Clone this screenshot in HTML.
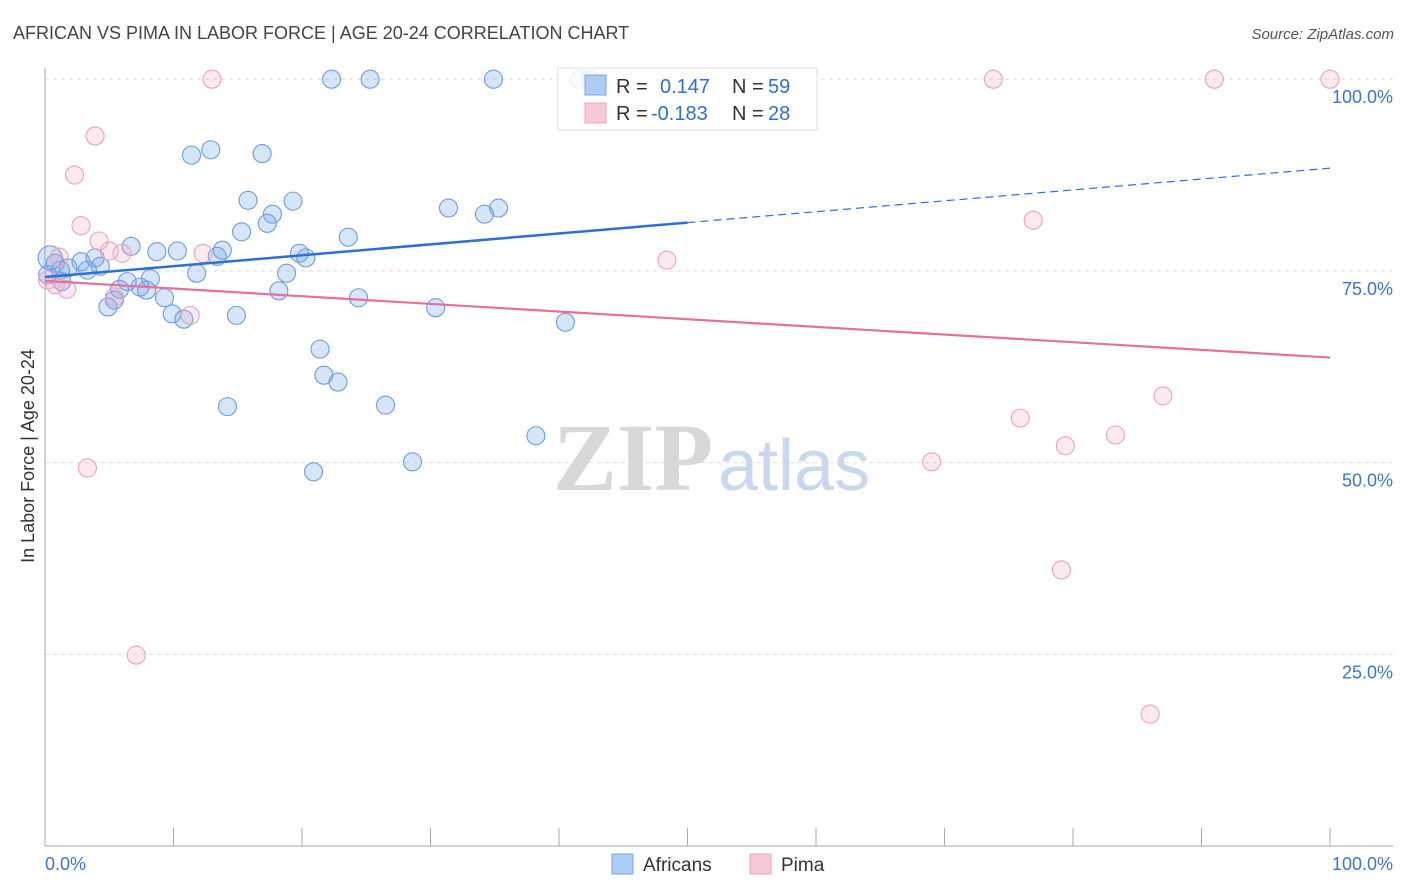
<!DOCTYPE html>
<html><head><meta charset="utf-8"><style>
body{margin:0;background:#fff;font-family:"Liberation Sans",sans-serif;}
svg{display:block}
</style></head><body>
<svg id="chart" width="1406" height="892" xmlns="http://www.w3.org/2000/svg">
<text x="13" y="39" font-size="18" fill="#444">AFRICAN VS PIMA IN LABOR FORCE | AGE 20-24 CORRELATION CHART</text>
<text x="1394" y="39" font-size="15" fill="#555" text-anchor="end" font-style="italic">Source: ZipAtlas.com</text>
<g>
<text x="553" y="490" font-size="96" fill="#d8d8d8" font-family="Liberation Serif,serif" font-weight="bold">ZIP</text>
<text x="718" y="490" font-size="72" fill="#c8d8ef">atlas</text>
</g>
<g id="grid"></g>
<g id="axes"></g>
<g id="pts"></g>
<g id="trends"></g>
<text transform="translate(34,456) rotate(-90)" font-size="18" fill="#333" text-anchor="middle">In Labor Force | Age 20-24</text>
<g>
<rect x="558" y="68" width="259" height="62" fill="#fff" fill-opacity="0.85" stroke="#ddd"/>
<rect x="585" y="75" width="21" height="20" fill="#aecbf3" stroke="#7aa6e6"/>
<rect x="585" y="103" width="21" height="20" fill="#f8c8d6" stroke="#eea4bb"/>
<text x="616" y="93" font-size="20" fill="#333">R =</text>
<text x="660" y="93" font-size="20" fill="#2f6fd1">0.147</text>
<text x="732" y="93" font-size="20" fill="#333">N =</text>
<text x="768" y="93" font-size="20" fill="#2f6fd1">59</text>
<text x="616" y="120" font-size="20" fill="#333">R =</text>
<text x="651" y="120" font-size="20" fill="#2f6fd1">-0.183</text>
<text x="732" y="120" font-size="20" fill="#333">N =</text>
<text x="768" y="120" font-size="20" fill="#2f6fd1">28</text>
</g>
<g>
<rect x="612" y="854" width="21" height="20" fill="#aecbf3" stroke="#7aa6e6"/>
<text x="643" y="871" font-size="19" fill="#333">Africans</text>
<rect x="750" y="854" width="21" height="20" fill="#f8c8d6" stroke="#eea4bb"/>
<text x="781" y="871" font-size="19" fill="#333">Pima</text>
</g>
</svg>
<script>
const blueX=[22.3,25.3,34.9,41.6,42.4,11.4,12.9,16.9,15.8,19.3,17.7,15.3,17.3,31.4,34.2,35.3,23.6,6.7,8.7,10.3,13.8,13.4,19.8,20.3,18.8,11.8,3.9,4.3,2.8,1.8,3.3,0.4,0.8,6.4,8.2,7.4,7.9,5.8,18.2,5.4,9.3,4.9,24.4,9.9,14.9,10.8,30.4,40.5,21.4,21.7,22.8,14.2,26.5,38.2,28.6,20.9,1.2,0.2,1.3];
const blueY=[100,100,100,100,100,90.1,90.8,90.3,84.2,84.1,82.4,80.1,81.2,83.2,82.4,83.2,79.4,78.2,77.5,77.6,77.7,76.9,77.3,76.7,74.7,74.7,76.7,75.6,76.2,75.4,75.1,76.7,76.0,73.6,74.0,72.9,72.5,72.6,72.4,71.2,71.5,70.3,71.5,69.4,69.2,68.7,70.2,68.3,64.8,61.4,60.5,57.3,57.5,53.5,50.1,48.8,75.1,74.5,73.6];
const pinkX=[13.0,73.8,91.0,100,3.9,2.3,2.8,4.2,5.0,6.0,12.3,1.1,48.4,76.9,0.2,0.8,1.7,5.4,11.3,75.9,87.0,79.4,83.3,69.0,3.3,79.1,7.1,86.0];
const pinkY=[100,100,100,100,92.6,87.5,80.9,78.9,77.6,77.3,77.3,76.8,76.4,81.6,73.8,73.2,72.6,71.6,69.2,55.8,58.7,52.2,53.6,50.1,49.3,36.0,24.9,17.2];
const blueTrend=[74.2,88.4];
const pinkTrend=[73.7,63.7];
const yTicks=[25,50,75,100];
const NS="http://www.w3.org/2000/svg";
const X=v=>45+v*12.85;
const Y=v=>846-v*7.668;
function mk(tag,attrs,parent){const e=document.createElementNS(NS,tag);for(const k in attrs)e.setAttribute(k,attrs[k]);parent.appendChild(e);return e;}
const grid=document.getElementById('grid'),axes=document.getElementById('axes'),pts=document.getElementById('pts'),tr=document.getElementById('trends');
yTicks.forEach(t=>{
 const l=mk('line',{x1:45,x2:1393,y1:Y(t),y2:Y(t),stroke:'#ddd','stroke-dasharray':'4,4'},grid);
 
 
 const tx=mk('text',{x:1393,y:Y(t)+24,'font-size':18,fill:'#3b74d4','text-anchor':'end'},grid);
 tx.textContent=t.toFixed(1)+'%';
 
 
});
let a=mk('line',{x1:45,x2:45,y1:68,y2:846,stroke:'#aaa'},axes);


a=mk('line',{x1:45,x2:1393,y1:846,y2:846,stroke:'#aaa'},axes);


for(let i=0;i<=10;i++){const t=mk('line',{x1:X(i*10),x2:X(i*10),y1:828,y2:846,stroke:'#aaa'},axes);
 
 }
let xl=mk('text',{x:45,y:870,'font-size':18,fill:'#3b74d4'},axes);xl.textContent='0.0%';


xl=mk('text',{x:1393,y:870,'font-size':18,fill:'#3b74d4','text-anchor':'end'},axes);xl.textContent='100.0%';


blueX.forEach((x,i)=>{const r=(i===31)?12:9;const c=mk('circle',{cx:X(x),cy:Y(blueY[i]),r:r,fill:'rgba(110,160,235,0.28)',stroke:'#6a9de0','stroke-width':1.1},pts);
 
 });
pinkX.forEach((x,i)=>{const c=mk('circle',{cx:X(x),cy:Y(pinkY[i]),r:9,fill:'rgba(244,160,190,0.22)',stroke:'#eca2b8','stroke-width':1.1},pts);
 
 });
const bAt=v=>blueTrend[0]+(blueTrend[1]-blueTrend[0])*v/100;
let l=mk('line',{x1:X(0),y1:Y(bAt(0)),x2:X(50),y2:Y(bAt(50)),stroke:'#2d6fd6','stroke-width':2.5},tr);


l=mk('line',{x1:X(50),y1:Y(bAt(50)),x2:X(100),y2:Y(bAt(100)),stroke:'#2d6fd6','stroke-width':1.2,'stroke-dasharray':'8,5'},tr);


l=mk('line',{x1:X(0),y1:Y(pinkTrend[0]),x2:X(100),y2:Y(pinkTrend[1]),stroke:'#e5709a','stroke-width':2.2},tr);


</script>
</body></html>
